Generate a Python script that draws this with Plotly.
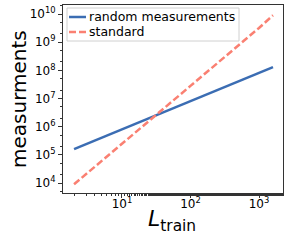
import plotly.graph_objects as go

L_train = [2, 10, 100, 1000, 1600]
random_measurements = [1.6e5, 8.1e5, 8.1e6, 8.1e7, 1.3e8]
standard = [9.0e3, 2.4e5, 2.8e7, 3.2e9, 9.0e9]
series_names = ["random measurements", "standard"]
series_colors = ["#3b6db3", "#fa8072"]
series_dash = ["solid", "7px,3px"]

x_tickvals = [10, 100, 1000]
x_ticktext = ["10<sup>1</sup>", "10<sup>2</sup>", "10<sup>3</sup>"]
y_tickvals = [1e4, 1e5, 1e6, 1e7, 1e8, 1e9, 1e10]
y_ticktext = ["10<sup>%d</sup>" % k for k in range(4, 11)]

FONT = "DejaVu Sans"
W, H = 291, 242
ML, MR, MT, MB = 63, 8, 5, 49
PW, PH = W - ML - MR, H - MT - MB


def px2paper(px, py):
    return (px - ML) / PW, 1 - (py - MT) / PH


fig = go.Figure()
for ys, name, col, dash in zip([random_measurements, standard], series_names, series_colors, series_dash):
    fig.add_trace(go.Scatter(x=L_train, y=ys, mode="lines", name=name,
                             line=dict(color=col, width=2.5, dash=dash),
                             showlegend=False))

axis_common = dict(
    showline=True, linecolor="#333333", linewidth=1, mirror=True,
    ticks="outside", ticklen=4, tickcolor="#333333",
    showgrid=False, zeroline=False, automargin=False,
    tickfont=dict(family=FONT, size=12, color="black"),
    minor=dict(ticks="outside", ticklen=2, tickcolor="#333333", showgrid=False),
)

fig.update_xaxes(type="log", range=[0.14, 3.35], tickvals=x_tickvals, ticktext=x_ticktext,
                 ticklabelstandoff=-4, **axis_common)
fig.update_yaxes(type="log", range=[3.645, 10.32], tickvals=y_tickvals, ticktext=y_ticktext,
                 **axis_common)

shapes = []
annotations = []
# axis titles
tx, ty = px2paper(172, 220)
annotations.append(dict(text="<i>L</i><sub>train</sub>", xref="paper", yref="paper",
                        x=tx, y=ty, xanchor="center", yanchor="middle", showarrow=False,
                        font=dict(family=FONT, size=22, color="black")))
tx, ty = px2paper(19, 99)
annotations.append(dict(text="measurments", xref="paper", yref="paper", textangle=-90,
                        x=tx, y=ty, xanchor="center", yanchor="middle", showarrow=False,
                        font=dict(family=FONT, size=20, color="black")))
# legend box
x0, y0 = px2paper(67, 8)
x1, y1 = px2paper(239, 41)
shapes.append(dict(type="rect", xref="paper", yref="paper", x0=x0, y0=y1, x1=x1, y1=y0,
                   line=dict(color="#d0d0d0", width=1), fillcolor="rgba(255,255,255,0.8)",
                   layer="above"))
for i, (name, col, dash) in enumerate(zip(series_names, series_colors, series_dash)):
    py = 17 + i * 15
    ax0, ay = px2paper(69, py)
    ax1, _ = px2paper(86, py)
    shapes.append(dict(type="line", xref="paper", yref="paper", x0=ax0, y0=ay, x1=ax1, y1=ay,
                       line=dict(color=col, width=2.5, dash=dash), layer="above"))
    lx, _ = px2paper(87, py)
    annotations.append(dict(text=name, xref="paper", yref="paper", x=lx, y=ay,
                            xanchor="left", yanchor="middle", showarrow=False,
                            font=dict(family=FONT, size=12.5, color="black")))

fig.update_layout(
    width=W, height=H,
    margin=dict(l=ML, r=MR, t=MT, b=MB),
    plot_bgcolor="white", paper_bgcolor="white",
    font=dict(family=FONT, size=12, color="black"),
    showlegend=False,
    shapes=shapes, annotations=annotations,
)

fig.write_html("out.html", config={"displayModeBar": False},
               post_script="document.body.style.margin='0';document.body.style.overflow='hidden';")
